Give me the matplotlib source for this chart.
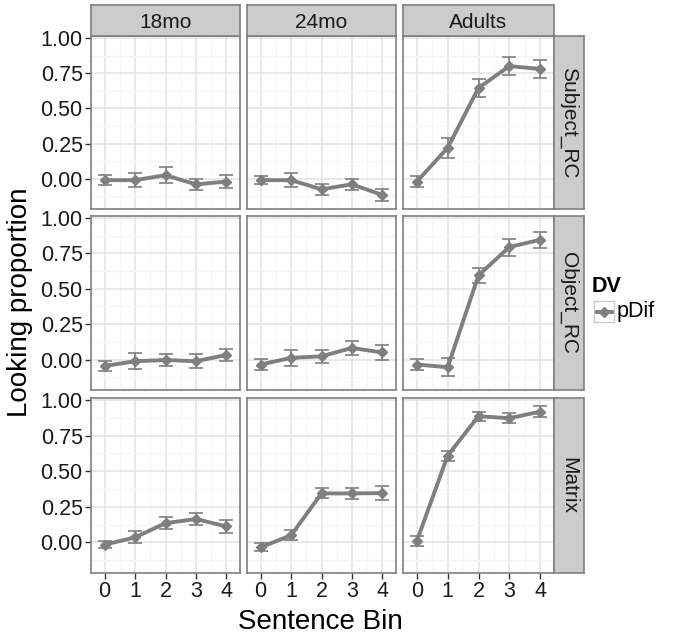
import numpy as np
import matplotlib
matplotlib.use("Agg")
import matplotlib.pyplot as plt

plt.rcParams['font.family'] = ['Liberation Sans', 'DejaVu Sans']

# data
bins = [0, 1, 2, 3, 4]
ages = ["18mo", "24mo", "Adults"]
conds = ["Subject_RC", "Object_RC", "Matrix"]

subj_18 = [-0.01, -0.01, 0.025, -0.04, -0.02]
subj_18_se = [0.035, 0.05, 0.055, 0.04, 0.045]
subj_24 = [-0.01, -0.01, -0.075, -0.04, -0.115]
subj_24_se = [0.03, 0.05, 0.04, 0.04, 0.045]
subj_ad = [-0.02, 0.22, 0.645, 0.80, 0.78]
subj_ad_se = [0.04, 0.07, 0.065, 0.065, 0.065]

obj_18 = [-0.045, -0.012, -0.003, -0.012, 0.033]
obj_18_se = [0.035, 0.055, 0.045, 0.05, 0.045]
obj_24 = [-0.035, 0.012, 0.023, 0.082, 0.05]
obj_24_se = [0.04, 0.055, 0.045, 0.048, 0.052]
obj_ad = [-0.035, -0.054, 0.595, 0.795, 0.846]
obj_ad_se = [0.04, 0.065, 0.055, 0.06, 0.055]

mat_18 = [-0.016, 0.035, 0.135, 0.164, 0.112]
mat_18_se = [0.025, 0.042, 0.043, 0.04, 0.048]
mat_24 = [-0.035, 0.05, 0.344, 0.344, 0.346]
mat_24_se = [0.028, 0.034, 0.035, 0.036, 0.049]
mat_ad = [0.01, 0.61, 0.886, 0.872, 0.918]
mat_ad_se = [0.035, 0.035, 0.033, 0.035, 0.04]

values = [[subj_18, subj_24, subj_ad],
          [obj_18, obj_24, obj_ad],
          [mat_18, mat_24, mat_ad]]
errors = [[subj_18_se, subj_24_se, subj_ad_se],
          [obj_18_se, obj_24_se, obj_ad_se],
          [mat_18_se, mat_24_se, mat_ad_se]]

W, H = 688, 637
fig = plt.figure(figsize=(W / 100, H / 100), dpi=100)

grey = '#7f7f7f'
col_x = [(91, 240), (247, 396), (403, 554)]
row_y = [(36, 209), (216, 390), (398, 573)]

def px_box(x0, x1, y0, y1):
    return [x0 / W, 1 - y1 / H, (x1 - x0) / W, (y1 - y0) / H]

for r in range(3):
    for c in range(3):
        x0, x1 = col_x[c]
        y0, y1 = row_y[r]
        ax = fig.add_axes(px_box(x0, x1, y0, y1))
        ax.set_xlim(-0.45, 4.45)
        ax.set_ylim(-0.215, 1.014)
        ax.set_xticks(bins)
        ax.set_xticks([0.5, 1.5, 2.5, 3.5], minor=True)
        ax.set_yticks([0, 0.25, 0.5, 0.75, 1.0])
        ax.set_yticks([-0.125, 0.125, 0.375, 0.625, 0.875], minor=True)
        ax.grid(True, which='major', color='#e3e3e3', lw=1.1, zorder=0)
        ax.grid(True, which='minor', color='#f4f4f4', lw=0.8, zorder=0)
        ax.set_axisbelow(True)
        for s in ax.spines.values():
            s.set_color(grey)
            s.set_linewidth(1.2)
        ax.tick_params(which='minor', length=0)
        ax.tick_params(which='major', length=4, width=1, color='#333333',
                       labelsize=15.5, labelcolor='#1a1a1a', pad=2)
        if c == 0:
            ax.set_yticklabels(["0.00", "0.25", "0.50", "0.75", "1.00"])
        else:
            ax.tick_params(axis='y', left=False, labelleft=False)
        if r == 2:
            ax.set_xticklabels([str(b) for b in bins])
        else:
            ax.tick_params(axis='x', bottom=False, labelbottom=False)

        y = values[r][c]
        e = errors[r][c]
        ax.errorbar(bins, y, yerr=e, fmt='none', ecolor=grey, elinewidth=1.2,
                    capsize=5, capthick=1.2, zorder=2)
        ax.plot(bins, y, color=grey, lw=2.8, marker='D', ms=5.5,
                zorder=3, solid_capstyle='butt')

# top strips
for c in range(3):
    x0, x1 = col_x[c]
    sax = fig.add_axes(px_box(x0, x1, 5, 36))
    sax.set_facecolor('#cccccc')
    sax.set_xticks([])
    sax.set_yticks([])
    for s in sax.spines.values():
        s.set_color(grey)
        s.set_linewidth(1.2)
    sax.text(0.5, 0.45, ages[c], ha='center', va='center', fontsize=15,
             color='#1a1a1a', transform=sax.transAxes)

# right strips
for r in range(3):
    y0, y1 = row_y[r]
    sax = fig.add_axes(px_box(554, 584, y0, y1))
    sax.set_facecolor('#cccccc')
    sax.set_xticks([])
    sax.set_yticks([])
    for s in sax.spines.values():
        s.set_color(grey)
        s.set_linewidth(1.2)
    sax.text(0.5, 0.5, conds[r], ha='center', va='center', fontsize=15,
             rotation=-90, color='#1a1a1a', transform=sax.transAxes)

fig.text(320 / W, 1 - 622 / H, "Sentence Bin", ha='center', va='center',
         fontsize=20, color='black')
fig.text(20 / W, 1 - 302 / H, "Looking proportion", ha='center', va='center',
         rotation=90, fontsize=20, color='black')

# legend
fig.text(592 / W, 1 - 286 / H, "DV", ha='left', va='center', fontsize=15.5,
         fontweight='bold', color='black')
kax = fig.add_axes(px_box(594, 614, 301, 322))
kax.set_xlim(0, 1)
kax.set_ylim(0, 1)
kax.set_xticks([])
kax.set_yticks([])
for s in kax.spines.values():
    s.set_color('#cccccc')
    s.set_linewidth(1)
kax.plot([0.05, 0.95], [0.5, 0.5], color=grey, lw=2.8)
kax.plot([0.5], [0.5], color=grey, marker='D', ms=5.5)
fig.text(617 / W, 1 - 312 / H, "pDif", ha='left', va='center', fontsize=15.5,
         color='black')

fig.savefig("out.png", dpi=100)
